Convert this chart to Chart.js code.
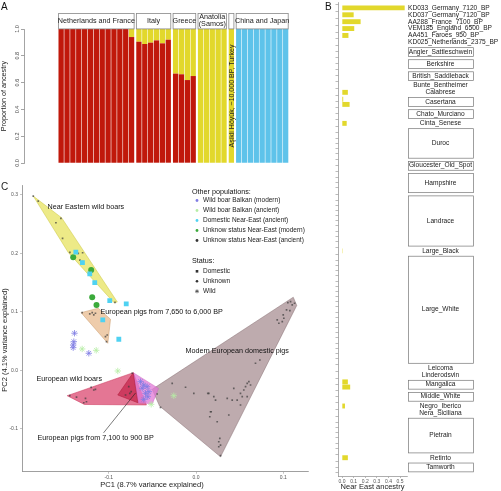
<!DOCTYPE html>
<html>
<head>
<meta charset="utf-8">
<title>Ancestry of European pigs</title>
<script src="https://cdn.jsdelivr.net/npm/chart.js@4.4.1/dist/chart.umd.min.js"></script>
<style>
  body { margin: 0; background: #fff; width: 501px; height: 491px; position: relative; overflow: hidden; }
  .panel { position: absolute; }
</style>
</head>
<body>
<div class="panel" style="left:0;top:0;width:325px;height:180px"><canvas id="chartA"></canvas></div>
<div class="panel" style="left:325px;top:0;width:176px;height:491px"><canvas id="chartB"></canvas></div>
<div class="panel" style="left:0;top:180px;width:325px;height:311px"><canvas id="chartC"></canvas></div>
<script>
// ---------- Panel A: ancestry proportions ----------
const groupNames = ['Netherlands and France', 'Italy', 'Greece', 'Anatolia\n(Samos)', '', 'China and Japan'];
const groupSizes = [13, 6, 4, 5, 1, 9];
const europeanAncestry = [1, 1, 1, 1, 1, 1, 1, 1, 1, 1, 1, 1, 0.94,
  0.905, 0.888, 0.898, 0.915, 0.893, 0.92,
  0.667, 0.662, 0.619, 0.649,
  0, 0, 0, 0, 0,
  0,
  0, 0, 0, 0, 0, 0, 0, 0, 0];
const nearEastAncestry = [0, 0, 0, 0, 0, 0, 0, 0, 0, 0, 0, 0, 0.06,
  0.095, 0.112, 0.102, 0.085, 0.107, 0.08,
  0.333, 0.338, 0.381, 0.351,
  1, 1, 1, 1, 1,
  1,
  0, 0, 0, 0, 0, 0, 0, 0, 0];
const eastAsianAncestry = [0, 0, 0, 0, 0, 0, 0, 0, 0, 0, 0, 0, 0,
  0, 0, 0, 0, 0, 0,
  0, 0, 0, 0,
  0, 0, 0, 0, 0,
  0,
  1, 1, 1, 1, 1, 1, 1, 1, 1];
const yTicksA = [0, 0.2, 0.4, 0.6, 0.8, 1.0];
const asikliLabel = 'Aşikli Höyük, ~10,000 BP, Turkey';

// ---------- Panel B: Near East ancestry per sample ----------
const ancientSamples = ['KD033_Germany_7120_BP', 'KD037_Germany_7120_BP', 'AA288_France_7100_BP',
  'VEM185_England_6500_BP', 'AA451_Faroes_950_BP', 'KD025_Netherlands_2375_BP'];
const ancientNearEast = [0.54, 0.10, 0.16, 0.105, 0.055, 0];
const breeds = ['Angler_Sattleschwein', 'Berkshire', 'British_Saddleback', 'Bunte_Bentheimer', 'Calabrese',
  'Casertana', 'Chato_Murciano', 'Cinta_Senese', 'Duroc', 'Gloucester_Old_Spot', 'Hampshire', 'Landrace',
  'Large_Black', 'Large_White', 'Leicoma', 'Linderodsvin', 'Mangalica', 'Middle_White', 'Negro_Iberico',
  'Nera_Siciliana', 'Pietrain', 'Retinto', 'Tamworth'];
const breedSizes = [2, 2, 2, 1, 1, 2, 2, 1, 6, 2, 4, 10, 1, 21, 1, 1, 2, 2, 1, 1, 7, 1, 2];
// breeds with some Near East ancestry (one value per sample), others are 0
const admixedBreeds = {
  Calabrese: [0.05],
  Casertana: [0.01, 0.065],
  Cinta_Senese: [0.04],
  Large_Black: [0.005],
  Mangalica: [0.05, 0.07],
  Negro_Iberico: [0.025],
  Retinto: [0.05]
};
const xTicksB = [0, 0.1, 0.2, 0.3, 0.4, 0.5];

// ---------- Panel C: PCA ----------
const wildBoarBalkanModern = [[-0.1393, 0.0634], [-0.1401, 0.049], [-0.1408, 0.0433], [-0.1408, 0.0387], [-0.1229, 0.0291],
  [-0.0636, -0.0195], [-0.0599, -0.0252], [-0.0617, -0.0308], [-0.056, -0.0281], [-0.0541, -0.0366],
  [-0.0579, -0.0394], [-0.0553, -0.0452], [-0.0599, -0.0497]];
const wildBoarBalkanAncient = [[-0.1305, 0.0365], [-0.1144, 0.0342], [-0.0897, -0.0012], [-0.0255, -0.0435], [-0.0514, -0.0582]];
const domesticNearEastAncient = [[-0.1378, 0.202], [-0.1302, 0.1842], [-0.1218, 0.1649], [-0.1161, 0.15],
  [-0.0989, 0.1192], [-0.08, 0.1135], [-0.1069, 0.0861], [-0.0885, 0.0531]];
const unknownNearEastModern = [[-0.1408, 0.1935], [-0.1202, 0.1717], [-0.119, 0.125], [-0.1141, 0.1118]];
const unknownNearEastAncient = [[-0.1866, 0.298], [-0.1809, 0.2895], [-0.1606, 0.2524], [-0.1549, 0.2598], [-0.153, 0.2256],
  [-0.1446, 0.2017], [-0.135, 0.2], [-0.13, 0.2011], [-0.1331, 0.1886], [-0.13, 0.1858], [-0.0929, 0.1162]];
const europeanSamples = [
  [-0.1305, 0.0986], [-0.1218, 0.0964], [-0.119, 0.0986], [-0.1172, 0.0947], [-0.1153, 0.0976],
  [-0.1018, 0.0604], [-0.1038, 0.0575], [-0.1026, 0.049],
  [-0.1447, -0.0435], [-0.1267, -0.048], [-0.1256, -0.0538], [-0.1287, -0.0555], [-0.1202, -0.0291],
  [-0.1172, -0.0337], [-0.1153, -0.0325], [-0.137, -0.046],
  [-0.0771, -0.0281], [-0.0743, -0.0366], [-0.0759, -0.0394], [-0.0808, -0.0423], [-0.0732, -0.0051],
  [0.1053, 0.1158], [0.1084, 0.1175], [0.113, 0.1147], [0.1103, 0.1118], [0.1038, 0.1033], [0.1076, 0.1021],
  [0.1007, 0.089], [0.0989, 0.0832], [0.095, 0.0805], [0.0931, 0.0861], [0.1, 0.0947], [0.0732, 0.0176],
  [0.0682, 0.012], [0.0606, -0.0195], [0.0587, -0.0223], [0.0625, -0.0252], [0.0568, -0.0281], [0.0548, -0.0337],
  [0.051, -0.0394], [0.053, -0.0452], [0.0587, -0.0452], [0.0433, -0.0308], [0.0415, -0.0509], [0.0472, -0.0509],
  [0.0358, -0.048], [0.0204, -0.0452], [0.0224, -0.0509], [0.0135, -0.0394], [0.0166, -0.0709], [0.0158, -0.0795],
  [0.0243, -0.088], [0.0376, -0.0765], [0.051, -0.0594], [0.0261, -0.1223], [0.0281, -0.1279], [0.0261, -0.1308],
  [0.0273, -0.1164], [0.0281, -0.146], [-0.0273, -0.0223], [-0.012, -0.029], [-0.0025, -0.0394], [0.0147, -0.0394],
  [-0.0445, -0.0406], [-0.0407, -0.0634], [0.0174, -0.0709]];
// convex hulls of the sample groups
const hullNearEasternWild = [[-0.1866, 0.298], [-0.1541, 0.261], [-0.0902, 0.1168], [-0.094, 0.1155], [-0.1465, 0.2017]];
const hullEuroPigs7650 = [[-0.1317, 0.0986], [-0.1122, 0.1062], [-0.098, 0.0873], [-0.1011, 0.0462]];
const hullEuroWild = [[-0.1477, -0.0435], [-0.072, -0.0041], [-0.0568, -0.0594], [-0.128, -0.0585]];
const hullBalkan = [[-0.072, -0.0041], [-0.043, -0.031], [-0.05, -0.057], [-0.066, -0.056]];
const hullEuroPigs7100 = [[-0.0897, -0.0423], [-0.072, -0.0041], [-0.0667, -0.0555]];
const hullModernDomestic = [[-0.0502, -0.0325], [0.1115, 0.125], [0.1155, 0.111], [0.0281, -0.148], [-0.0418, -0.0611]];
const groupLabels = [
  { text: 'Near Eastern wild boars', x: -0.1703, y: 0.2796 },
  { text: 'European pigs from 7,650 to 6,000 BP', x: -0.1095, y: 0.1003 },
  { text: 'Modern European domestic pigs', x: -0.0121, y: 0.033 },
  { text: 'European wild boars', x: -0.1829, y: -0.0149 },
  { text: 'European pigs from 7,100 to 900 BP', x: -0.1818, y: -0.1159 }
];
const otherPopulations = ['Wild boar Balkan (modern)', 'Wild boar Balkan (ancient)', 'Domestic Near-East (ancient)',
  'Unknow status Near-East (modern)', 'Unknow status Near-East (ancient)'];
const statusNames = ['Domestic', 'Unknown', 'Wild'];

const FONT = '"Liberation Sans", Arial, sans-serif';
const RED = '#C0180B', YELLOW = '#E2D82C', BLUE = '#5EC3EA';
const popColors = ['#7F7CE3', '#B6EDA4', '#4FD2F2', '#3BAA3B', '#333333'];
const statusStyles = ['rect', 'circle', 'star'];

Chart.defaults.font.family = FONT;
Chart.defaults.color = '#222';

const baseOptions = {
  responsive: true,
  maintainAspectRatio: false,
  animation: false,
  devicePixelRatio: 1,
  events: [],
  plugins: { legend: { display: false }, tooltip: { enabled: false } }
};

// ---------- Panel A ----------
const barPositions = [];
let pos = 0;
groupSizes.forEach(n => {
  for (let i = 0; i < n; i++) { barPositions.push(pos); pos += 1; }
  pos += 0.25;
});
const xMaxA = barPositions[barPositions.length - 1] + 0.5;

const panelAPlugin = {
  id: 'panelA',
  afterDraw(chart) {
    const ctx = chart.ctx, x = chart.scales.x, area = chart.chartArea;
    ctx.save();
    let k = 0;
    groupNames.forEach((name, g) => {
      const first = barPositions[k], last = barPositions[k + groupSizes[g] - 1];
      k += groupSizes[g];
      const l = x.getPixelForValue(first - 0.5), r = x.getPixelForValue(last + 0.5);
      const top = area.top - 16, h = 15.5;
      ctx.fillStyle = '#fff';
      ctx.fillRect(l, top, r - l, h);
      ctx.strokeStyle = '#888';
      ctx.lineWidth = 0.8;
      ctx.strokeRect(l + 0.4, top + 0.4, r - l - 0.8, h);
      ctx.fillStyle = '#222';
      ctx.font = '7.2px ' + FONT;
      ctx.textAlign = 'center';
      ctx.textBaseline = 'middle';
      const lines = name.split('\n');
      lines.forEach((line, i) => {
        ctx.fillText(line, (l + r) / 2, top + h / 2 + (i - (lines.length - 1) / 2) * 6.5);
      });
    });
    // vertical label inside the Asikli bar
    const asikliPos = barPositions[groupSizes.slice(0, 4).reduce((a, b) => a + b, 0)];
    ctx.translate(x.getPixelForValue(asikliPos) + 0.5, (area.top + area.bottom) / 2);
    ctx.rotate(-Math.PI / 2);
    ctx.font = '7px ' + FONT;
    ctx.fillText(asikliLabel, 0, 0);
    ctx.restore();
    ctx.save();
    ctx.fillStyle = '#111';
    ctx.font = '10px ' + FONT;
    ctx.textAlign = 'left';
    ctx.textBaseline = 'top';
    ctx.fillText('A', 1, 2);
    ctx.restore();
  }
};

new Chart(document.getElementById('chartA'), {
  type: 'bar',
  data: {
    datasets: [
      { label: 'Europe', data: barPositions.map((x, i) => ({ x, y: europeanAncestry[i] })), backgroundColor: RED },
      { label: 'Near East', data: barPositions.map((x, i) => ({ x, y: nearEastAncestry[i] })), backgroundColor: YELLOW },
      { label: 'East Asia', data: barPositions.map((x, i) => ({ x, y: eastAsianAncestry[i] })), backgroundColor: BLUE }
    ]
  },
  options: {
    ...baseOptions,
    layout: { padding: { left: 0, right: 7, top: 29, bottom: 17 } },
    datasets: { bar: { barPercentage: 0.9, categoryPercentage: 1, borderWidth: 0 } },
    scales: {
      x: { type: 'linear', stacked: true, display: false, min: -0.5 - 6 * (xMaxA + 0.5) / 288, max: xMaxA, ticks: { stepSize: 10 } },
      y: {
        stacked: true, min: 0, max: 1,
        afterBuildTicks: s => { s.ticks = yTicksA.map(v => ({ value: v })); },
        afterFit: s => { s.width = 24; },
        ticks: { font: { size: 5.5 }, color: '#444', padding: 0, minRotation: 90, maxRotation: 90, crossAlign: 'center', callback: v => v.toFixed(1) },
        grid: { drawOnChartArea: false, tickLength: 3, color: '#666', lineWidth: 0.6 },
        border: { color: '#666', width: 0.6 },
        title: { display: true, text: 'Proportion of ancestry', font: { size: 7.2 }, padding: 0, color: '#222' }
      }
    }
  },
  plugins: [panelAPlugin]
});

// ---------- Panel B ----------
const rowGroups = [];
const samplePositions = [];
const sampleNearEast = [];
let row = 0;
const GAP = 1 / 3;
ancientSamples.forEach((name, i) => {
  rowGroups.push({ name, start: row, n: 1, ancient: true });
  samplePositions.push(row + 0.5);
  sampleNearEast.push(ancientNearEast[i]);
  row += 1 + GAP;
});
breeds.forEach((name, i) => {
  const n = breedSizes[i];
  rowGroups.push({ name, start: row, n, ancient: false });
  for (let j = 0; j < n; j++) {
    samplePositions.push(row + j + 0.5);
    sampleNearEast.push(admixedBreeds[name] ? admixedBreeds[name][j] : 0);
  }
  row += n + GAP;
});

const panelBPlugin = {
  id: 'panelB',
  afterDraw(chart) {
    const ctx = chart.ctx, y = chart.scales.y;
    const boxL = chart.chartArea.right + 1, boxR = boxL + 65, mid = (boxL + boxR) / 2;
    ctx.save();
    ctx.font = '6.6px ' + FONT;
    ctx.fillStyle = '#222';
    ctx.textBaseline = 'middle';
    rowGroups.forEach(g => {
      const top = y.getPixelForValue(g.start), bot = y.getPixelForValue(g.start + g.n), cy = (top + bot) / 2;
      if (g.ancient) {
        ctx.textAlign = 'left';
        ctx.fillText(g.name, boxL, cy);
        return;
      }
      ctx.textAlign = 'center';
      if (g.n > 1) {
        ctx.strokeStyle = '#777';
        ctx.lineWidth = 0.7;
        ctx.strokeRect(boxL + 0.5, top + 1, boxR - boxL, bot - top - 1.5);
        ctx.save();
        ctx.beginPath();
        ctx.rect(boxL + 1, top, boxR - boxL - 1, bot - top);
        ctx.clip();
        ctx.fillText(g.name, mid, cy);
        ctx.restore();
      } else {
        ctx.fillText(g.name, mid, cy);
      }
    });
    ctx.font = '10px ' + FONT;
    ctx.textAlign = 'left';
    ctx.textBaseline = 'top';
    ctx.fillStyle = '#111';
    ctx.fillText('B', 0, 2);
    ctx.restore();
  }
};

new Chart(document.getElementById('chartB'), {
  type: 'bar',
  data: {
    datasets: [{ label: 'Near East ancestry', data: samplePositions.map((y, i) => ({ x: sampleNearEast[i], y })), backgroundColor: YELLOW }]
  },
  options: {
    ...baseOptions,
    indexAxis: 'y',
    layout: { padding: { left: 0, right: 94, top: 2, bottom: 0 } },
    datasets: { bar: { barPercentage: 0.95, categoryPercentage: 1, borderWidth: 0 } },
    scales: {
      y: {
        type: 'linear', reverse: true, min: -0.073, max: 90.47,
        afterBuildTicks: s => { s.ticks = samplePositions.map(v => ({ value: v })); },
        afterFit: s => { s.width = 13; },
        ticks: { display: false },
        grid: { drawOnChartArea: false, tickLength: 2.5, color: '#777', lineWidth: 0.5 },
        border: { color: '#777', width: 0.6 }
      },
      x: {
        type: 'linear', min: -0.035, max: 0.56,
        afterBuildTicks: s => { s.ticks = xTicksB.map(v => ({ value: v })); },
        afterFit: s => { s.height = 15; },
        ticks: { font: { size: 5 }, color: '#555', padding: 1, maxRotation: 0, callback: v => v.toFixed(1) },
        grid: { drawOnChartArea: false, tickLength: 2, color: '#777', lineWidth: 0.5 },
        border: { color: '#777', width: 0.6 },
        title: { display: true, text: 'Near East ancestry', font: { size: 7.5 }, padding: 0, color: '#222' }
      }
    }
  },
  plugins: [panelBPlugin]
});

// ---------- Panel C ----------
function drawMarker(ctx, style, x, y, r, color) {
  ctx.fillStyle = color;
  ctx.strokeStyle = color;
  if (style === 'circle') {
    ctx.beginPath(); ctx.arc(x, y, r, 0, 2 * Math.PI); ctx.fill();
  } else if (style === 'rect') {
    ctx.fillRect(x - r, y - r, 2 * r, 2 * r);
  } else {
    ctx.lineWidth = 0.6;
    ctx.beginPath();
    for (let k = 0; k < 4; k++) {
      const a = k * Math.PI / 4;
      ctx.moveTo(x - r * Math.cos(a), y - r * Math.sin(a));
      ctx.lineTo(x + r * Math.cos(a), y + r * Math.sin(a));
    }
    ctx.stroke();
  }
}

const panelCPlugin = {
  id: 'panelC',
  afterDraw(chart) {
    const ctx = chart.ctx, x = chart.scales.x, y = chart.scales.y;
    ctx.save();
    ctx.fillStyle = '#111';
    ctx.font = '7.2px ' + FONT;
    ctx.textAlign = 'left';
    ctx.textBaseline = 'middle';
    groupLabels.forEach(l => ctx.fillText(l.text, x.getPixelForValue(l.x), y.getPixelForValue(l.y)));
    // pointer to the 7,100-900 BP hull
    ctx.strokeStyle = '#222';
    ctx.lineWidth = 0.6;
    ctx.beginPath();
    ctx.moveTo(x.getPixelForValue(-0.106), y.getPixelForValue(-0.107));
    ctx.lineTo(x.getPixelForValue(-0.0693), y.getPixelForValue(-0.0388));
    ctx.stroke();

    // legend
    ctx.fillStyle = '#111';
    ctx.font = '7.2px ' + FONT;
    ctx.fillText('Other populations:', 192, 12);
    ctx.font = '6.5px ' + FONT;
    otherPopulations.forEach((name, i) => {
      const ly = 20.5 + i * 10;
      drawMarker(ctx, 'circle', 197, ly, 1.4, popColors[i]);
      ctx.fillStyle = '#222';
      ctx.fillText(name, 203, ly);
    });
    ctx.font = '7.2px ' + FONT;
    ctx.fillStyle = '#111';
    ctx.fillText('Status:', 192, 81);
    ctx.font = '6.5px ' + FONT;
    statusNames.forEach((name, i) => {
      const ly = 91.3 + i * 10;
      drawMarker(ctx, statusStyles[i], 197, ly, statusStyles[i] === 'star' ? 2 : 1.3, '#333');
      ctx.fillStyle = '#222';
      ctx.fillText(name, 203, ly);
    });

    // axis titles
    ctx.font = '7.5px ' + FONT;
    ctx.textAlign = 'center';
    ctx.fillText('PC1 (8.7% variance explained)', 152, 305);
    ctx.save();
    ctx.translate(5, 160);
    ctx.rotate(-Math.PI / 2);
    ctx.fillText('PC2 (4.1% variance explained)', 0, 0);
    ctx.restore();

    ctx.font = '10px ' + FONT;
    ctx.textAlign = 'left';
    ctx.textBaseline = 'top';
    ctx.fillText('C', 1, 2);
    ctx.restore();
  }
};

const toXY = a => a.map(([x, y]) => ({ x, y }));
const hull = (pts, fill, line, order) => ({
  data: toXY(pts.concat([pts[0]])), showLine: true, fill: 'shape', tension: 0,
  backgroundColor: fill, borderColor: line, borderWidth: 0.6, pointRadius: 0, order
});
const points = (pts, style, r, color, order) => ({
  data: toXY(pts), pointStyle: style, pointRadius: r, backgroundColor: color, borderColor: color,
  borderWidth: style === 'star' ? 0.8 : 0, order
});

new Chart(document.getElementById('chartC'), {
  type: 'scatter',
  data: {
    datasets: [
      hull(hullModernDomestic, 'rgba(150,120,125,0.62)', 'rgba(130,105,110,0.8)', 20),
      hull(hullNearEasternWild, 'rgba(228,222,70,0.65)', 'rgba(200,195,60,0.8)', 19),
      hull(hullEuroPigs7650, 'rgba(226,170,115,0.6)', 'rgba(200,150,100,0.8)', 18),
      hull(hullEuroWild, 'rgba(214,45,90,0.65)', 'rgba(200,40,80,0.8)', 17),
      hull(hullBalkan, 'rgba(226,120,215,0.75)', 'rgba(200,100,190,0.8)', 16),
      hull(hullEuroPigs7100, 'rgba(190,20,60,0.6)', 'rgba(170,20,50,0.8)', 15),
      points(europeanSamples, 'rect', 1.2, 'rgba(60,60,60,0.7)', 6),
      points(unknownNearEastAncient, 'rect', 1.2, 'rgba(60,60,60,0.7)', 5),
      points(wildBoarBalkanAncient, 'star', 3.2, '#B6EDA4', 4),
      points(wildBoarBalkanModern, 'star', 3.2, '#7F7CE3', 3),
      points(unknownNearEastModern, 'circle', 3, '#3BAA3B', 2),
      points(domesticNearEastAncient, 'rect', 3.4, '#4FD2F2', 1)
    ]
  },
  options: {
    ...baseOptions,
    layout: { padding: { left: 0, right: 17, top: 5, bottom: 0 } },
    scales: {
      x: {
        type: 'linear', min: -0.1995, max: 0.1284,
        afterFit: s => { s.height = 19.3; },
        ticks: { stepSize: 0.1, includeBounds: false, font: { size: 5 }, color: '#555', padding: 1, maxRotation: 0, callback: v => v.toFixed(1) },
        grid: { drawOnChartArea: false, tickLength: 2, color: '#888', lineWidth: 0.5 },
        border: { color: '#888', width: 0.8 }
      },
      y: {
        type: 'linear', min: -0.1735, max: 0.317,
        afterFit: s => { s.width = 22; },
        ticks: { stepSize: 0.1, includeBounds: false, font: { size: 5 }, color: '#555', padding: 2, callback: v => v.toFixed(1) },
        grid: { drawOnChartArea: false, tickLength: 2, color: '#888', lineWidth: 0.5 },
        border: { color: '#888', width: 0.8 }
      }
    }
  },
  plugins: [panelCPlugin]
});
</script>
</body>
</html>
